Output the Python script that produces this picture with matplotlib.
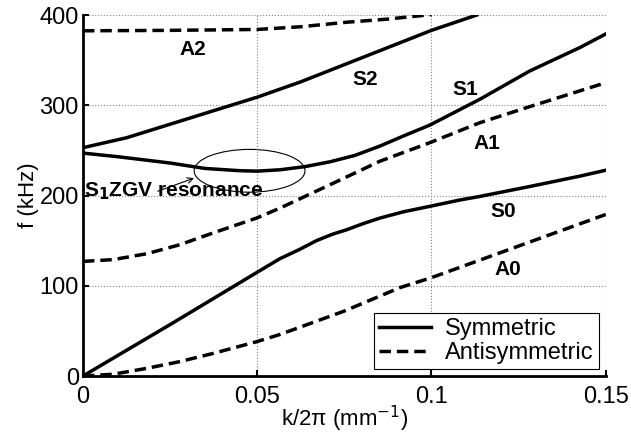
import matplotlib.pyplot as plt
import numpy as np
from matplotlib.patches import Ellipse

plt.rcParams['font.family'] = ['Liberation Sans', 'DejaVu Sans']

# Dispersion curves: k/2pi (1/mm) -> f (kHz)
s0_k = [0, 0.025, 0.05, 0.0565, 0.062, 0.067, 0.0715, 0.0756, 0.0805, 0.0852, 0.092,
        0.0995, 0.1081, 0.1139, 0.1282, 0.1426, 0.15]
s0_f = [0, 57, 115, 130, 140, 150, 157, 162, 169, 175, 182,
        188, 195, 199, 210, 221.5, 228]

a0_k = [0, 0.0087, 0.0183, 0.0278, 0.0373, 0.0498, 0.0565, 0.075, 0.091, 0.1,
        0.125, 0.15]
a0_f = [0, 2, 8.5, 16, 25, 38, 46, 72, 98, 109, 144, 179]

a1_k = [0, 0.0087, 0.0183, 0.0278, 0.0373, 0.0498, 0.0565, 0.0709, 0.0852, 0.0995,
        0.1139, 0.1282, 0.1426, 0.15]
a1_f = [127, 129, 135.5, 145.5, 158.5, 175, 186, 212, 238, 258.5,
        280.7, 298.5, 316, 325]

s1_k = [0, 0.01, 0.025, 0.035, 0.045, 0.05, 0.0565, 0.0637, 0.0709, 0.078, 0.0852,
        0.0924, 0.0995, 0.1139, 0.1282, 0.1426, 0.15]
s1_f = [247, 243, 236, 230, 227.5, 227, 228.5, 232, 237.4, 244.4, 254.8,
        266.7, 278, 306.7, 338, 364, 379]

s2_k = [0, 0.0125, 0.025, 0.0375, 0.05, 0.0625, 0.075, 0.0875, 0.1, 0.113]
s2_f = [253, 264, 279, 294, 309, 326, 345, 364, 383, 400]

a2_k = [0, 0.025, 0.05, 0.0625, 0.0756, 0.0875, 0.1]
a2_f = [382.5, 383, 384, 387, 392, 395.5, 400.5]

mode_names = ['A2', 'S2', 'S1', 'A1', 'S0', 'A0']
label_k = [0.0314, 0.0809, 0.1096, 0.1158, 0.1206, 0.122]
label_f = [362, 329, 318, 258, 182, 118]

fig = plt.figure(figsize=(6.31, 4.34), dpi=100)
ax = fig.add_axes([0.1315, 0.1336, 0.8285, 0.8318])

dash = (3.3, 1.7)
lw = 2.5
ax.plot(s0_k, s0_f, 'k-', lw=lw, label='Symmetric')
ax.plot(a0_k, a0_f, 'k--', lw=lw, dashes=dash, label='Antisymmetric')
ax.plot(s1_k, s1_f, 'k-', lw=lw)
ax.plot(a1_k, a1_f, 'k--', lw=lw, dashes=dash)
ax.plot(s2_k, s2_f, 'k-', lw=lw)
ax.plot(a2_k, a2_f, 'k--', lw=lw, dashes=dash)

for name, x, y in zip(mode_names, label_k, label_f):
    ax.text(x, y, name, fontsize=15, fontweight='bold', ha='center', va='center')

ax.add_patch(Ellipse((0.0478, 227.4), 0.0318, 47.4, fill=False, lw=0.8, color='k'))
ax.annotate('', xy=(0.0326, 220.3), xytext=(0.0207, 203.7),
            arrowprops=dict(arrowstyle='->', lw=0.8, color='k'))
ax.text(0.0003, 205, 'S$_\\mathbf{1}$ZGV resonance', fontsize=15, fontweight='bold',
        ha='left', va='center')

ax.set_xlim(0, 0.15)
ax.set_ylim(0, 400)
ax.set_xticks([0, 0.05, 0.1, 0.15])
ax.set_xticklabels(['0', '0.05', '0.1', '0.15'])
ax.set_yticks([0, 100, 200, 300, 400])
ax.tick_params(direction='in', labelsize=17, width=1.5, length=4)
ax.tick_params(axis='x', pad=7)
ax.tick_params(axis='y', pad=3)
ax.grid(True, linestyle=':', color='gray', lw=0.8)
ax.spines['top'].set_visible(False)
ax.spines['right'].set_visible(False)
ax.spines['left'].set_linewidth(2)
ax.spines['bottom'].set_linewidth(2)
ax.set_xlabel('k/2\u03c0 (mm$^{-1}$)', fontsize=16, labelpad=-3)
ax.set_ylabel('f (kHz)', fontsize=16, labelpad=0)

leg = ax.legend(loc='lower right', fontsize=17, fancybox=False, edgecolor='k',
                framealpha=1, handlelength=2.2, borderaxespad=0.3, borderpad=0.2,
                labelspacing=0.1, handletextpad=0.6)
leg.get_frame().set_linewidth(0.8)

fig.savefig('out.png', dpi=100)
